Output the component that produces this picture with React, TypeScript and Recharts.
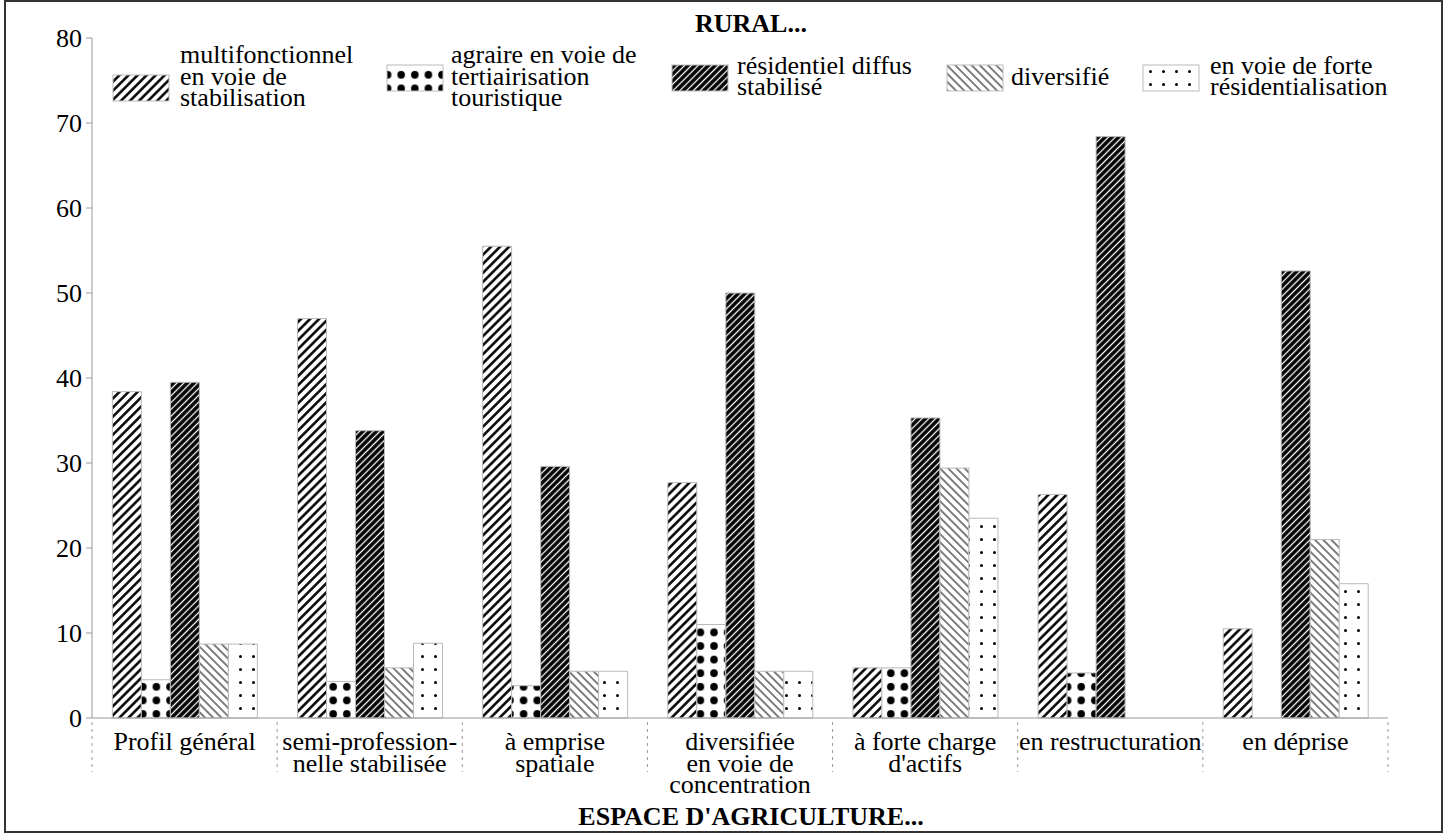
import React from "react"
import { BarChart, Bar, XAxis, YAxis } from "recharts"

const categories = [
    "Profil général",
    "semi-profession-\nnelle stabilisée",
    "à emprise\nspatiale",
    "diversifiée\nen voie de\nconcentration",
    "à forte charge\nd'actifs",
    "en restructuration",
    "en déprise",
]

const multifonctionnel = [38.4, 47.0, 55.5, 27.7, 5.9, 26.3, 10.5]
const agraire = [4.5, 4.3, 3.8, 11.0, 5.9, 5.3, 0]
const residentiel = [39.5, 33.8, 29.6, 50.0, 35.3, 68.4, 52.6]
const diversifie = [8.7, 5.9, 5.5, 5.5, 29.4, 0, 21.0]
const forteResidentialisation = [8.7, 8.8, 5.5, 5.5, 23.5, 0, 15.8]

const yTicks = [0, 10, 20, 30, 40, 50, 60, 70, 80]

const series = [
    { key: "multi", pattern: "p-multi", lines: ["multifonctionnel", "en voie de", "stabilisation"] },
    { key: "agraire", pattern: "p-agraire", lines: ["agraire en voie de", "tertiairisation", "touristique"] },
    { key: "resid", pattern: "p-resid", lines: ["résidentiel diffus", "stabilisé"] },
    { key: "divers", pattern: "p-divers", lines: ["diversifié"] },
    { key: "forte", pattern: "p-forte", lines: ["en voie de forte", "résidentialisation"] },
]

const data = categories.map((cat, i) => ({
    cat,
    multi: multifonctionnel[i],
    agraire: agraire[i],
    resid: residentiel[i],
    divers: diversifie[i],
    forte: forteResidentialisation[i],
}))

const W = 1450
const H = 835
const Y_AXIS_W = 92
const RIGHT = 62
const BAND = (W - Y_AXIS_W - RIGHT) / categories.length
const FONT = "'Liberation Serif', 'Times New Roman', serif"
const FS = 26

// legend placement (swatch left/top, text left, first baseline)
const legendPos = [
    { sx: 113, sy: 75, tx: 180, by: 63 },
    { sx: 387, sy: 65, tx: 451, by: 63 },
    { sx: 672, sy: 65, tx: 737, by: 73.5 },
    { sx: 947, sy: 65, tx: 1011, by: 85 },
    { sx: 1143, sy: 65, tx: 1210, by: 73.5 },
]

function CategoryTick(props: any) {
    const { x, y, payload, index } = props
    const lines = String(payload.value).split("\n")
    const half = BAND / 2
    return (
        <g>
            <line x1={x - half} x2={x - half} y1={y + 4} y2={y + 54} stroke="#999" strokeDasharray="3 4" />
            {index === categories.length - 1 && (
                <line x1={x + half} x2={x + half} y1={y + 4} y2={y + 54} stroke="#999" strokeDasharray="3 4" />
            )}
            <text x={x} y={y + 32} textAnchor="middle" fill="#000" style={{ fontSize: FS, fontFamily: FONT }}>
                {lines.map((l, i) => (
                    <tspan key={i} x={x} dy={i === 0 ? 0 : 21.5}>
                        {l}
                    </tspan>
                ))}
            </text>
        </g>
    )
}

export default function App() {
    return (
        <div
            style={{
                position: "absolute",
                left: 0,
                top: 0,
                width: W,
                height: H,
                background: "#fff",
                overflow: "hidden",
                fontFamily: FONT,
            }}
        >
            <div
                style={{
                    position: "absolute",
                    left: 4,
                    top: 0,
                    width: 1439,
                    height: 833,
                    border: "2px solid #333",
                    boxSizing: "border-box",
                }}
            />

            <svg width={W} height={H} style={{ position: "absolute", left: 0, top: 0 }}>
                <defs>
                    <pattern id="p-multi" width={6.4} height={6.4} patternUnits="userSpaceOnUse" patternTransform="rotate(45)">
                        <rect width={6.4} height={6.4} fill="#fff" />
                        <line x1={3.2} y1={0} x2={3.2} y2={6.4} stroke="#000" strokeWidth={2.5} />
                    </pattern>
                    <pattern id="p-agraire" width={13.6} height={13.6} patternUnits="userSpaceOnUse">
                        <rect width={13.6} height={13.6} fill="#fff" />
                        <circle cx={6.8} cy={6.8} r={3.8} fill="#000" />
                    </pattern>
                    <pattern id="p-resid" width={4.8} height={4.8} patternUnits="userSpaceOnUse" patternTransform="rotate(45)">
                        <rect width={4.8} height={4.8} fill="#000" />
                        <line x1={2.4} y1={0} x2={2.4} y2={4.8} stroke="#fff" strokeWidth={1.3} />
                    </pattern>
                    <pattern id="p-divers" width={5.8} height={5.8} patternUnits="userSpaceOnUse" patternTransform="rotate(-45)">
                        <rect width={5.8} height={5.8} fill="#fff" />
                        <line x1={2.9} y1={0} x2={2.9} y2={5.8} stroke="#000" strokeWidth={1} />
                    </pattern>
                    <pattern id="p-forte" width={13} height={13} patternUnits="userSpaceOnUse">
                        <rect width={13} height={13} fill="#fff" />
                        <circle cx={6.5} cy={6.5} r={1.5} fill="#000" />
                    </pattern>
                </defs>
            </svg>

            <div style={{ position: "absolute", left: 0, top: 0 }}>
                <BarChart
                    width={W}
                    height={H}
                    data={data}
                    margin={{ top: 38, right: RIGHT, left: 0, bottom: 0 }}
                    barCategoryGap="11%"
                    barGap={0}
                    style={{ fontFamily: FONT }}
                >
                    <XAxis
                        dataKey="cat"
                        height={117}
                        interval={0}
                        tickLine={false}
                        tickSize={0}
                        tickMargin={0}
                        axisLine={{ stroke: "#999" }}
                        tick={<CategoryTick />}
                    />
                    <YAxis
                        width={Y_AXIS_W}
                        domain={[0, 80]}
                        ticks={yTicks}
                        tickSize={6}
                        tickMargin={4}
                        axisLine={{ stroke: "#999" }}
                        tickLine={{ stroke: "#999" }}
                        tick={{ fontSize: FS, fill: "#000", style: { fontFamily: FONT } }}
                    />
                    {series.map((s) => (
                        <Bar
                            key={s.key}
                            dataKey={s.key}
                            fill={`url(#${s.pattern})`}
                            stroke="#bbb"
                            strokeWidth={1}
                            isAnimationActive={false}
                        />
                    ))}
                </BarChart>
            </div>

            <svg
                width={W}
                height={H}
                style={{ position: "absolute", left: 0, top: 0, pointerEvents: "none", fontFamily: FONT }}
            >
                <text x={751} y={32} textAnchor="middle" fontSize={FS} fontWeight="bold" fill="#000">
                    RURAL...
                </text>
                <text x={751} y={825} textAnchor="middle" fontSize={FS} fontWeight="bold" fill="#000">
                    ESPACE D'AGRICULTURE...
                </text>

                {series.map((s, i) => {
                    const p = legendPos[i]
                    return (
                        <g key={s.key}>
                            <rect x={p.sx} y={p.sy} width={56} height={26} fill={`url(#${s.pattern})`} stroke="#bbb" />
                            <text x={p.tx} y={p.by} fill="#000" style={{ fontSize: FS, fontFamily: FONT }}>
                                {s.lines.map((l, j) => (
                                    <tspan key={j} x={p.tx} dy={j === 0 ? 0 : 21.5}>
                                        {l}
                                    </tspan>
                                ))}
                            </text>
                        </g>
                    )
                })}
            </svg>
        </div>
    )
}
